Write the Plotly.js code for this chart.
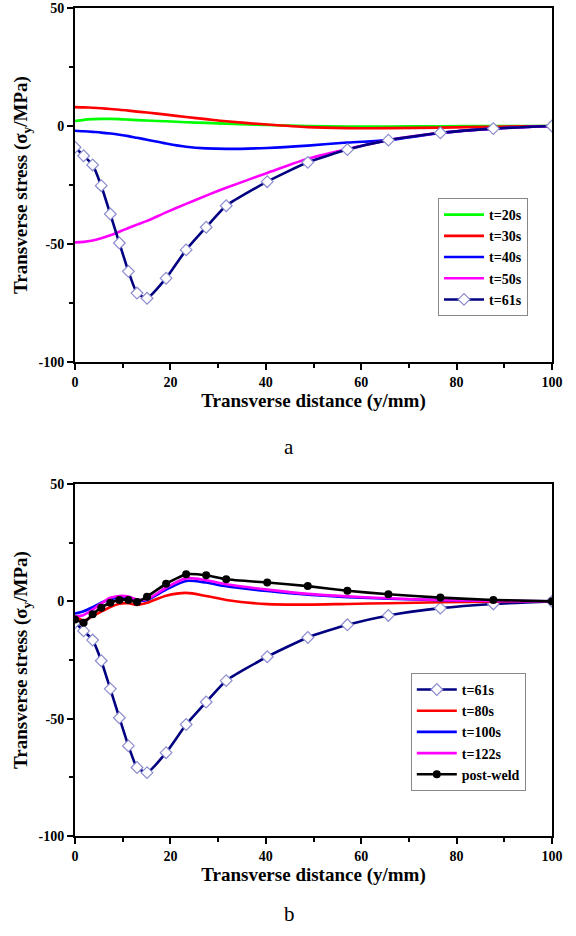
<!DOCTYPE html>
<html>
<head>
<meta charset="utf-8">
<script src="https://cdn.plot.ly/plotly-3.0.1.min.js"></script>
<style>html,body{margin:0;padding:0;background:#fff;}#chart{width:576px;height:936px;}</style>
</head>
<body>
<div id="chart"></div>
<script>
// Mesh nodes (transverse distance, mm)
const xNodes = [0, 1.8, 3.7, 5.5, 7.4, 9.3, 11.2, 13.0, 15.1, 19.1, 23.3, 27.5, 31.7, 40.3, 48.8, 57.1, 65.7, 76.6, 87.7, 100];

// Panel a
const t20 = [2.1, 2.6, 2.9, 3.0, 3.0, 2.9, 2.7, 2.5, 2.3, 2.0, 1.6, 1.3, 1.0, 0.4, 0.0, -0.2, -0.2, -0.1, 0, 0];
const t30 = [8.0, 7.9, 7.7, 7.5, 7.2, 6.9, 6.5, 6.1, 5.7, 4.8, 3.8, 2.9, 2.0, 0.6, -0.5, -0.9, -0.9, -0.7, -0.3, 0];
const t40 = [-2.0, -2.2, -2.5, -2.8, -3.2, -3.7, -4.3, -5.0, -5.8, -7.4, -8.8, -9.5, -9.7, -9.3, -8.3, -7.0, -6.0, -3.0, -1.1, 0];
const t50 = [-49.3, -49.1, -48.5, -47.6, -46.3, -44.8, -43.2, -41.8, -40.2, -36.6, -33.0, -29.5, -26.2, -19.9, -13.9, -9.8, -6.0, -2.9, -1.1, 0];
const t61 = [-9.0, -12.6, -16.5, -25.3, -37.3, -49.6, -61.6, -70.8, -73.0, -64.5, -52.5, -42.9, -33.8, -23.6, -15.4, -10.0, -6.0, -2.9, -1.1, 0];

// Panel b
const t80 = [-6.2, -8.2, -6.3, -4.4, -2.4, -1.0, -0.8, -1.5, -0.6, 2.4, 3.6, 2.3, 0.6, -1.2, -1.4, -1.1, -0.8, -0.4, -0.1, 0];
const t100 = [-5.2, -4.2, -2.5, -0.6, 0.9, 1.6, 1.4, 0.3, 0.6, 5.0, 8.7, 8.0, 6.4, 4.4, 2.8, 1.8, 1.1, 0.5, 0.2, 0];
const t122 = [-6.5, -5.8, -3.5, -0.9, 1.5, 2.3, 2.0, 0.8, 0.9, 5.8, 9.8, 9.0, 7.3, 5.0, 3.2, 2.1, 1.3, 0.6, 0.2, 0];
const postWeld = [-7.7, -9.1, -5.5, -2.7, -0.6, 0.6, 0.6, -0.3, 2.0, 7.5, 11.5, 11.1, 9.4, 8.0, 6.5, 4.5, 3.0, 1.6, 0.6, 0];

// Tick labels
const xTickVals = [0, 20, 40, 60, 80, 100];
const xTickText = ['0', '20', '40', '60', '80', '100'];
const xMinorVals = [10, 30, 50, 70, 90];
const yTickVals = [-100, -50, 0, 50];
const yTickText = ['-100', '-50', '0', '50'];
const yMinorVals = [-75, -25, 25];

const xTitle = 'Transverse distance (y/mm)';
const yTitle = 'Transverse stress (σ<sub>y</sub>/MPa)';
const panelLabels = ['a', 'b'];

const serif = "'Liberation Serif', 'Times New Roman', serif";
const LW = 2.6;

function smooth(name, y, color, xa, ya, legend) {
  return {x: xNodes, y: y, name: name, type: 'scatter', mode: 'lines',
    line: {color: color, width: LW, shape: 'spline', smoothing: 0.8},
    xaxis: xa, yaxis: ya, legend: legend};
}
function t61Trace(xa, ya, legend) {
  return {x: xNodes, y: t61, name: 't=61s', type: 'scatter', mode: 'lines+markers',
    line: {color: '#000080', width: LW, shape: 'spline', smoothing: 0.5},
    marker: {symbol: 'diamond', size: 9, color: '#ffffff', line: {color: '#8c8cd0', width: 1.2}},
    xaxis: xa, yaxis: ya, legend: legend};
}

const data = [
  smooth('t=20s', t20, '#00ff00', 'x', 'y', 'legend'),
  smooth('t=30s', t30, '#ff0000', 'x', 'y', 'legend'),
  smooth('t=40s', t40, '#0000ff', 'x', 'y', 'legend'),
  smooth('t=50s', t50, '#ff00ff', 'x', 'y', 'legend'),
  t61Trace('x', 'y', 'legend'),
  t61Trace('x2', 'y2', 'legend2'),
  smooth('t=80s', t80, '#ff0000', 'x2', 'y2', 'legend2'),
  smooth('t=100s', t100, '#0000ff', 'x2', 'y2', 'legend2'),
  smooth('t=122s', t122, '#ff00ff', 'x2', 'y2', 'legend2'),
  {x: xNodes, y: postWeld, name: 'post-weld', type: 'scatter', mode: 'lines+markers',
   line: {color: '#000000', width: LW, shape: 'spline', smoothing: 0.5},
   marker: {symbol: 'circle', size: 8, color: '#000000'},
   xaxis: 'x2', yaxis: 'y2', legend: 'legend2'}
];

const tickFont = {family: serif, size: 14, color: '#000', weight: 'bold'};
const titleFont = {family: serif, size: 19, color: '#000', weight: 'bold'};

function xAxis(anchor) {
  return {anchor: anchor, range: [0, 100], tickmode: 'array', tickvals: xTickVals, ticktext: xTickText,
    ticks: 'outside', ticklen: 6, tickwidth: 2,
    tickcolor: '#000', showline: true, linecolor: '#000', linewidth: 2, mirror: true,
    showgrid: false, zeroline: false, tickfont: tickFont, automargin: false,
    minor: {tickmode: 'array', tickvals: xMinorVals, ticks: 'outside', ticklen: 4, tickwidth: 2, tickcolor: '#000', showgrid: false},
    title: {text: xTitle, font: titleFont, standoff: 4}};
}
function yAxis(anchor, domain) {
  return {anchor: anchor, domain: domain, range: [-100, 50], tickmode: 'array', tickvals: yTickVals, ticktext: yTickText,
    ticks: 'outside', ticklen: 6, tickwidth: 2,
    tickcolor: '#000', showline: true, linecolor: '#000', linewidth: 2, mirror: true,
    showgrid: false, zeroline: false, tickfont: tickFont, automargin: false,
    minor: {tickmode: 'array', tickvals: yMinorVals, ticks: 'outside', ticklen: 4, tickwidth: 2, tickcolor: '#000', showgrid: false},
    title: {text: yTitle, font: titleFont, standoff: 6}};
}

const legendBase = {font: {family: serif, size: 14, color: '#000', weight: 'bold'},
  bordercolor: '#888', borderwidth: 1, bgcolor: '#fff', xanchor: 'left', yanchor: 'top',
  tracegroupgap: 0, itemwidth: 40};

const layout = {
  width: 576, height: 936,
  margin: {l: 75, r: 24, t: 8, b: 100},
  paper_bgcolor: '#fff', plot_bgcolor: '#fff',
  showlegend: true,
  xaxis: xAxis('y'),
  yaxis: yAxis('x', [0.5725, 1]),
  xaxis2: xAxis('y2'),
  yaxis2: yAxis('x2', [0, 0.4251]),
  legend: Object.assign({}, legendBase, {x: 0.761, y: 0.7705}),
  legend2: Object.assign({}, legendBase, {x: 0.704, y: 0.197}),
  annotations: [
    {text: panelLabels[0], xref: 'paper', yref: 'paper', x: 0.449, y: (836 - 447) / 828, xanchor: 'center', yanchor: 'middle', showarrow: false, font: {family: serif, size: 21, color: '#000'}},
    {text: panelLabels[1], xref: 'paper', yref: 'paper', x: 0.449, y: (836 - 914) / 828, xanchor: 'center', yanchor: 'middle', showarrow: false, font: {family: serif, size: 21, color: '#000'}}
  ]
};

Plotly.newPlot('chart', data, layout, {staticPlot: true, displayModeBar: false});
</script>
</body>
</html>
